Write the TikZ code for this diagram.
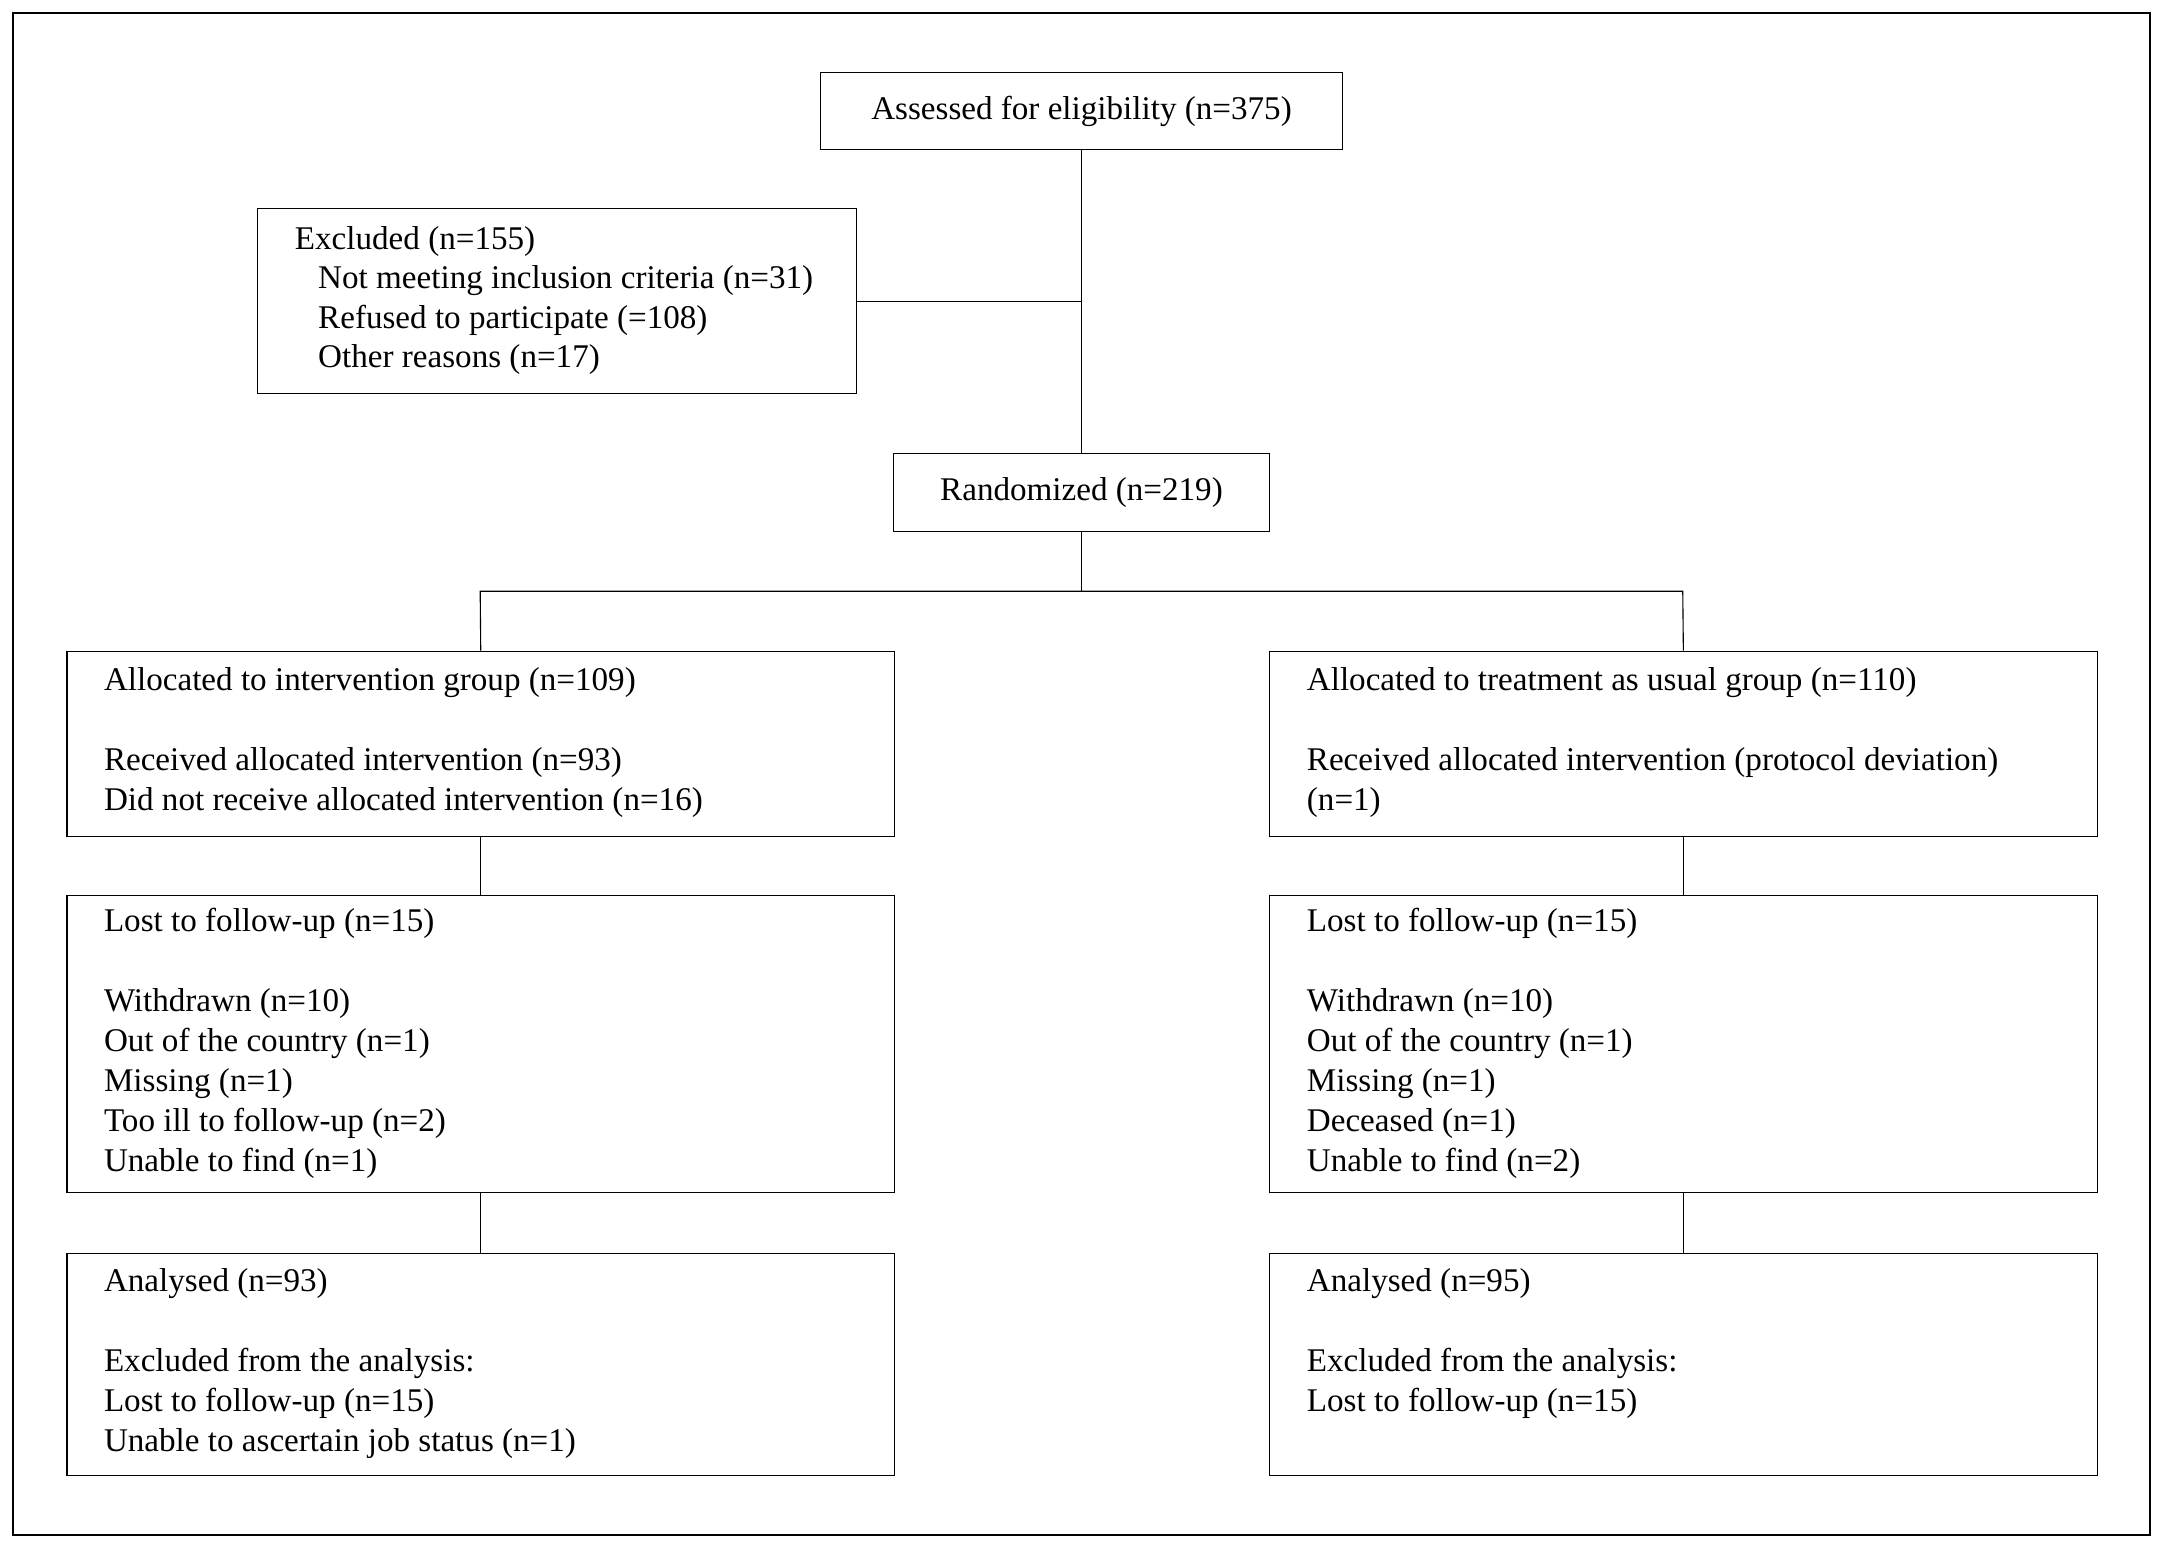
\documentclass[tikz,border=0pt]{standalone}
\usepackage{fontspec}
\setmainfont{Liberation Serif}
\begin{document}
\begin{tikzpicture}[x=0.5pt,y=-0.5pt,
  box/.style={draw=black, line width=0.4pt, rectangle, inner sep=0pt, anchor=north west},
  ctext/.style={font=\fontsize{12}{14.5}\selectfont, inner sep=0pt},
  ltext/.style={font=\fontsize{12}{14.5}\selectfont, inner sep=0pt, anchor=base west},
  link/.style={draw=black, line width=0.4pt}]
\useasboundingbox (0,0) rectangle (1568,1125.8);
\draw[line width=0.75pt] (9.7,9.7) rectangle (1558.4,1113);

% top boxes
\node[box, minimum width=189.5pt, minimum height=27.65pt, anchor=center, ctext] (assess) at (784,80.4) {Assessed for eligibility (n=375)};
\node[box, minimum width=217pt, minimum height=67.05pt] (excl) at (186.3,151) {};
\node[box, minimum width=136pt, minimum height=28pt, anchor=center, ctext] (rand) at (784,357) {Randomized (n=219)};

\node[ltext] (ex1) at (213.4,180.5) {Excluded (n=155)};
\node[ltext] (ex2) at (230.3,209.2) {Not meeting inclusion criteria (n=31)};
\node[ltext] (ex3) at (230.3,237.9) {Refused to participate (=108)};
\node[ltext] (ex4) at (230.3,266.6) {Other reasons (n=17)};

% column boxes
\node[box, minimum width=299.9pt, minimum height=67.05pt] (allocL) at (48.2,471.7) {};
\node[box, minimum width=299.9pt, minimum height=67.05pt] (allocR) at (920,471.7) {};
\node[box, minimum width=299.9pt, minimum height=107.55pt] (lostL) at (48.2,649) {};
\node[box, minimum width=299.9pt, minimum height=107.55pt] (lostR) at (920,649) {};
\node[box, minimum width=299.9pt, minimum height=80.5pt] (anaL) at (48.2,908) {};
\node[box, minimum width=299.9pt, minimum height=80.5pt] (anaR) at (920,908) {};

% left texts
\node[ltext] (al1) at (75,500.7) {Allocated to intervention group (n=109)};
\node[ltext] (al2) at (75,558.7) {Received allocated intervention (n=93)};
\node[ltext] (al3) at (75,587.7) {Did not receive allocated intervention (n=16)};
\node[ltext] (ll1) at (75,675.4) {Lost to follow-up (n=15)};
\node[ltext] (ll2) at (75,733.4) {Withdrawn (n=10)};
\node[ltext] (ll3) at (75,762.4) {Out of the country (n=1)};
\node[ltext] (ll4) at (75,791.4) {Missing (n=1)};
\node[ltext] (ll5) at (75,820.4) {Too ill to follow-up (n=2)};
\node[ltext] (ll6) at (75,849.4) {Unable to find (n=1)};
\node[ltext] (nl1) at (75,936) {Analysed (n=93)};
\node[ltext] (nl2) at (75,994) {Excluded from the analysis:};
\node[ltext] (nl3) at (75,1023) {Lost to follow-up (n=15)};
\node[ltext] (nl4) at (75,1052) {Unable to ascertain job status (n=1)};

% right texts
\node[ltext] (ar1) at (947,500.7) {Allocated to treatment as usual group (n=110)};
\node[ltext] (ar2) at (947,558.7) {Received allocated intervention (protocol deviation)};
\node[ltext] (ar3) at (947,587.7) {(n=1)};
\node[ltext] (lr1) at (947,675.4) {Lost to follow-up (n=15)};
\node[ltext] (lr2) at (947,733.4) {Withdrawn (n=10)};
\node[ltext] (lr3) at (947,762.4) {Out of the country (n=1)};
\node[ltext] (lr4) at (947,791.4) {Missing (n=1)};
\node[ltext] (lr5) at (947,820.4) {Deceased (n=1)};
\node[ltext] (lr6) at (947,849.4) {Unable to find (n=2)};
\node[ltext] (nr1) at (947,936) {Analysed (n=95)};
\node[ltext] (nr2) at (947,994) {Excluded from the analysis:};
\node[ltext] (nr3) at (947,1023) {Lost to follow-up (n=15)};

% connectors
\coordinate (splitL) at (348.1,428.6);
\coordinate (splitR) at (1219.85,428.6);
\draw[link] (assess.south) -- (rand.north);
\draw[link] (excl.east) -- (excl.east -| assess.south);
\draw[link] (rand.south) -- (rand.south |- splitL);
\draw[link] (allocL.north) -- (splitL) -- (splitR) -- (allocR.north);
\draw[link] (allocL.south) -- (lostL.north);
\draw[link] (allocR.south) -- (lostR.north);
\draw[link] (lostL.south) -- (anaL.north);
\draw[link] (lostR.south) -- (anaR.north);
\end{tikzpicture}
\end{document}
